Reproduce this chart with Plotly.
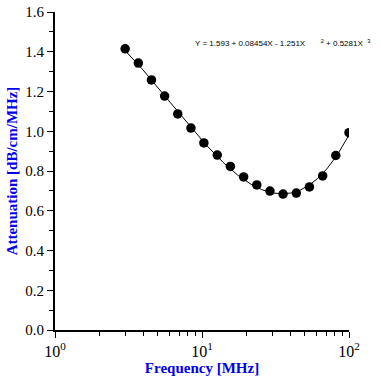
import plotly.graph_objects as go
import numpy as np

freq_mhz = [3.0, 3.69, 4.53, 5.57, 6.84, 8.41, 10.3, 12.7, 15.6, 19.2,
            23.6, 29.0, 35.6, 43.8, 53.8, 66.2, 81.3, 100.0]
attenuation = [1.415, 1.343, 1.258, 1.177, 1.087, 1.016, 0.941, 0.880, 0.823, 0.770,
               0.730, 0.699, 0.684, 0.689, 0.720, 0.775, 0.878, 0.993]
fit_coeffs = [1.593, 0.08454, -1.251, 0.5281]  # in powers of log10(f)

x_ticks = [1, 10, 100]
x_tick_text = ["10<sup>0</sup>", "10<sup>1</sup>", "10<sup>2</sup>"]
y_ticks = [0.0, 0.2, 0.4, 0.6, 0.8, 1.0, 1.2, 1.4, 1.6]

fx = np.logspace(np.log10(freq_mhz[0]), np.log10(freq_mhz[-1]), 200)
lx = np.log10(fx)
fy = sum(c * lx**i for i, c in enumerate(fit_coeffs))

fig = go.Figure()
fig.add_trace(go.Scatter(x=fx, y=fy, mode="lines",
                         line=dict(color="black", width=1), showlegend=False))
fig.add_trace(go.Scatter(x=freq_mhz, y=attenuation, mode="markers",
                         marker=dict(color="black", size=9.5), showlegend=False))

fig.add_annotation(
    x=1.078, y=1.445, xref="paper", yref="y", xanchor="right", yanchor="middle",
    text="Y = 1.593 + 0.08454X - 1.251X&nbsp;&nbsp;&nbsp;&nbsp;&nbsp;&nbsp;&nbsp;<sup>2</sup> + 0.5281X&nbsp;&nbsp;<sup>3</sup>",
    showarrow=False, font=dict(family="Liberation Sans", size=8, color="black"),
)

fig.update_xaxes(
    type="log", range=[0, 2], tickvals=x_ticks, ticktext=x_tick_text,
    ticks="outside", ticklen=6, tickwidth=1, tickcolor="black",
    showline=True, linecolor="black", linewidth=2, showgrid=False, zeroline=False,
    minor=dict(ticks="outside", ticklen=4, tickcolor="black", dtick="D1", showgrid=False),
    tickfont=dict(family="Liberation Serif", size=16, color="black"),
    automargin=False,
    title=dict(text="<b>Frequency [MHz]</b>", standoff=2,
               font=dict(family="Liberation Serif", size=15, color="#0000ee")),
)
fig.update_yaxes(
    range=[0, 1.6], tickvals=y_ticks, tickformat=".1f",
    ticks="outside", ticklen=6, tickwidth=1, tickcolor="black",
    showline=True, linecolor="black", linewidth=2, showgrid=False, zeroline=False,
    minor=dict(ticks="outside", ticklen=4, tickcolor="black", dtick=0.1, showgrid=False),
    tickfont=dict(family="Liberation Serif", size=15, color="black"),
    automargin=False,
    title=dict(text="<b>Attenuation [dB/cm/MHz]</b>", standoff=4,
               font=dict(family="Liberation Serif", size=15, color="#0000ee")),
)

fig.update_layout(
    width=381, height=376, plot_bgcolor="white", paper_bgcolor="white",
    margin=dict(l=55, r=32, t=12, b=46),
)
fig.write_html("out.html", config={"displayModeBar": False},
               post_script="document.body.style.margin='0px';")
